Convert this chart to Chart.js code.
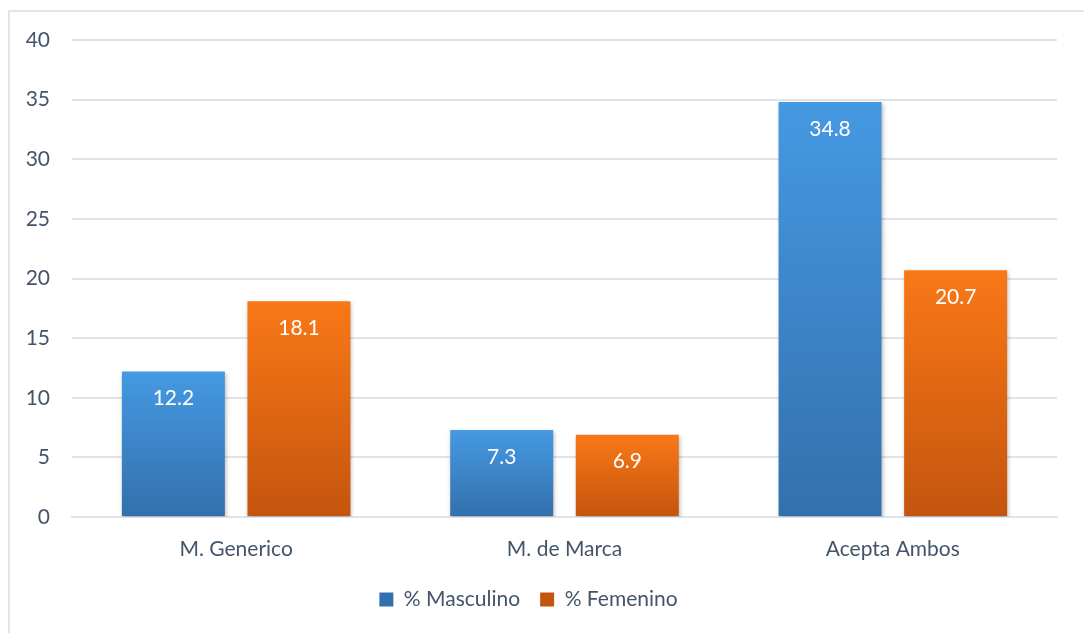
<!DOCTYPE html>
<html>
<head>
<meta charset="utf-8">
<script src="https://cdn.jsdelivr.net/npm/chart.js@4/dist/chart.umd.min.js"></script>
<style>
  html, body { margin: 0; padding: 0; background: #fff; overflow: hidden; }
  #frame { position: absolute; left: 8px; top: 10px; width: 1100px; height: 650px; border: 2px solid #e2e5ea; box-sizing: border-box; }
  #wrap { position: absolute; left: 0; top: 0; width: 1084px; height: 633px; }
</style>
</head>
<body>
<div id="frame"></div>
<div id="wrap"><canvas id="chart"></canvas></div>
<script>
// Dati del grafico
const categorie = ['M. Generico', 'M. de Marca', 'Acepta Ambos'];
const masculino = [12.2, 7.3, 34.8];
const femenino = [18.1, 6.9, 20.7];
const tickY = [0, 5, 10, 15, 20, 25, 30, 35, 40];

const textColor = '#44546a';
const gridColor = '#e0e3e8';
const fontFamily = 'Lato, "Open Sans", sans-serif';
const fontSize = 21;

// Sfumatura per ogni barra, dall'alto verso il basso
function barGradient(top, bottom, solid) {
    return function(context) {
        const chart = context.chart;
        if (context.type !== 'data' || !chart.chartArea) return solid;
        const y = chart.scales.y;
        const y0 = y.getPixelForValue(context.parsed.y);
        const y1 = y.getPixelForValue(0);
        const g = chart.ctx.createLinearGradient(0, y0, 0, y1);
        g.addColorStop(0, top);
        g.addColorStop(1, bottom);
        return g;
    };
}

// Ombra leggera sotto le barre
const barShadow = {
    id: 'barShadow',
    beforeDatasetsDraw(chart) {
        const ctx = chart.ctx;
        ctx.save();
        ctx.shadowColor = 'rgba(0,0,0,0.28)';
        ctx.shadowBlur = 4;
        ctx.shadowOffsetX = 1;
        ctx.shadowOffsetY = 2;
    },
    afterDatasetsDraw(chart) {
        chart.ctx.restore();
    }
};

// Etichette dei valori dentro le barre
const valueLabels = {
    id: 'valueLabels',
    afterDatasetsDraw(chart) {
        const ctx = chart.ctx;
        ctx.save();
        ctx.fillStyle = '#ffffff';
        ctx.font = fontSize + 'px ' + fontFamily;
        ctx.textAlign = 'center';
        ctx.textBaseline = 'middle';
        chart.data.datasets.forEach((ds, i) => {
            chart.getDatasetMeta(i).data.forEach((bar, j) => {
                ctx.fillText(ds.data[j].toFixed(1), bar.x, bar.y + 27);
            });
        });
        ctx.restore();
    }
};

const ctx = document.getElementById('chart').getContext('2d');
new Chart(ctx, {
    type: 'bar',
    data: {
        labels: categorie,
        datasets: [{
            label: '% Masculino',
            data: masculino,
            backgroundColor: barGradient('#4599e2', '#3370ad', '#3d86cc'),
            categoryPercentage: 0.765,
            barPercentage: 0.82
        }, {
            label: '% Femenino',
            data: femenino,
            backgroundColor: barGradient('#f97817', '#c4550e', '#e0650f'),
            categoryPercentage: 0.765,
            barPercentage: 0.82
        }]
    },
    options: {
        responsive: true,
        maintainAspectRatio: false,
        animation: false,
        layout: { padding: { left: 0, right: 27, top: 40, bottom: 13 } },
        scales: {
            x: {
                grid: { display: false, drawTicks: false },
                border: { display: true, color: gridColor, width: 2 },
                ticks: { color: textColor, font: { family: fontFamily, size: fontSize }, padding: 20 },
                afterFit(scale) { scale.height = 52; }
            },
            y: {
                min: 0,
                max: 40,
                afterBuildTicks(scale) { scale.ticks = tickY.map(v => ({ value: v })); },
                grid: { color: gridColor, lineWidth: 2, drawTicks: false },
                border: { display: false },
                ticks: { color: textColor, font: { family: fontFamily, size: fontSize }, padding: 22 },
                afterFit(scale) { scale.width = 72; }
            }
        },
        plugins: {
            legend: {
                position: 'bottom',
                labels: {
                    color: textColor,
                    font: { family: fontFamily, size: fontSize },
                    boxWidth: 14,
                    boxHeight: 14,
                    padding: 20
                }
            },
            tooltip: { enabled: false }
        }
    },
    plugins: [barShadow, valueLabels]
});
</script>
</body>
</html>
